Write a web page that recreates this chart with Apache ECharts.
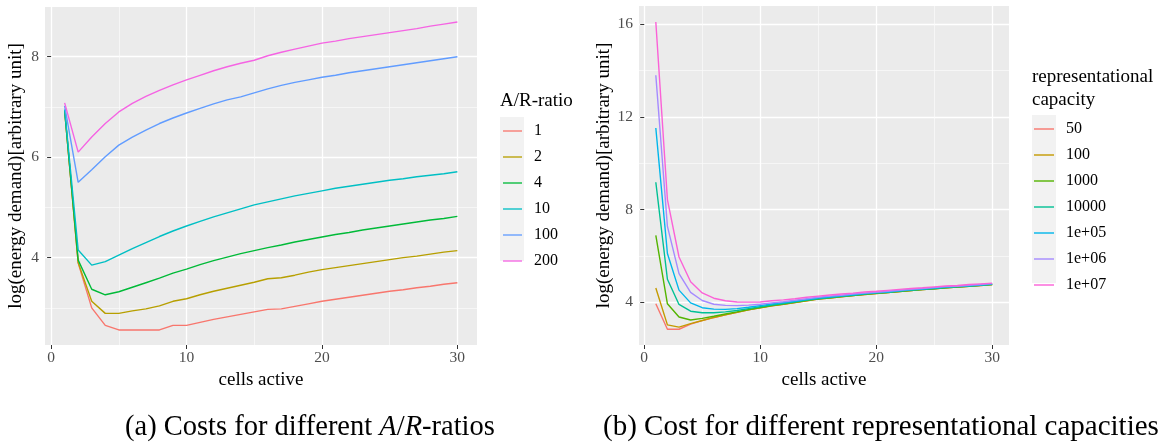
<!DOCTYPE html>
<html><head><meta charset="utf-8">
<script src="https://cdn.jsdelivr.net/npm/echarts@6/dist/echarts.min.js"></script>
<style>html,body{margin:0;padding:0;background:#fff}#c{width:1163px;height:445px}</style>
</head><body><div id="c"></div>
<script>
// ---------- data ----------
const cells = [1,2,3,4,5,6,7,8,9,10,11,12,13,14,15,16,17,18,19,20,21,22,23,24,25,26,27,28,29,30];

// (a) A/R-ratio
const arLabels = ['1','2','4','10','100','200'];
const ar1   = [6.93,3.89,3.00,2.65,2.56,2.56,2.56,2.56,2.65,2.65,2.71,2.77,2.82,2.87,2.92,2.97,2.98,3.03,3.08,3.13,3.17,3.21,3.25,3.29,3.33,3.36,3.40,3.43,3.47,3.50];
const ar2   = [6.93,3.90,3.13,2.89,2.89,2.94,2.98,3.04,3.13,3.18,3.26,3.33,3.39,3.45,3.51,3.58,3.60,3.65,3.71,3.76,3.80,3.84,3.88,3.92,3.96,4.00,4.03,4.07,4.11,4.14];
const ar4   = [6.93,3.95,3.37,3.26,3.32,3.41,3.50,3.59,3.69,3.77,3.86,3.94,4.01,4.08,4.14,4.20,4.25,4.31,4.36,4.41,4.46,4.50,4.55,4.59,4.63,4.67,4.71,4.75,4.78,4.82];
const ar10  = [6.95,4.15,3.85,3.92,4.05,4.18,4.30,4.42,4.53,4.63,4.72,4.81,4.89,4.97,5.05,5.11,5.17,5.23,5.28,5.33,5.38,5.42,5.46,5.50,5.54,5.57,5.61,5.64,5.67,5.71];
const ar100 = [7.02,5.50,5.75,6.01,6.24,6.40,6.54,6.67,6.78,6.88,6.97,7.06,7.14,7.20,7.28,7.36,7.43,7.49,7.54,7.59,7.63,7.68,7.72,7.76,7.80,7.84,7.88,7.92,7.96,8.00];
const ar200 = [7.08,6.10,6.40,6.67,6.90,7.07,7.21,7.33,7.44,7.54,7.63,7.72,7.80,7.87,7.93,8.02,8.09,8.15,8.21,8.27,8.31,8.36,8.40,8.44,8.48,8.52,8.56,8.61,8.65,8.69];

// (b) representational capacity
const capLabels = ['50','100','1000','10000','1e+05','1e+06','1e+07'];
const cap50  = [3.93,2.83,2.83,3.05,3.20,3.33,3.45,3.56,3.67,3.76,3.84,3.91,3.98,4.06,4.13,4.18,4.23,4.28,4.33,4.37,4.41,4.46,4.50,4.54,4.58,4.62,4.65,4.69,4.72,4.76];
const cap100 = [4.61,3.02,2.92,3.07,3.21,3.34,3.45,3.56,3.67,3.76,3.84,3.91,3.98,4.06,4.13,4.18,4.23,4.28,4.33,4.37,4.41,4.46,4.50,4.54,4.58,4.62,4.65,4.69,4.72,4.76];
const cap1e3 = [6.88,3.93,3.36,3.23,3.30,3.39,3.49,3.58,3.68,3.77,3.85,3.92,3.99,4.07,4.14,4.19,4.24,4.29,4.34,4.38,4.42,4.46,4.50,4.54,4.58,4.62,4.65,4.69,4.73,4.76];
const cap1e4 = [9.18,4.99,3.90,3.61,3.54,3.54,3.58,3.64,3.72,3.80,3.88,3.94,4.01,4.09,4.15,4.20,4.25,4.30,4.35,4.39,4.43,4.48,4.52,4.56,4.59,4.63,4.66,4.70,4.73,4.77];
const cap1e5 = [11.52,6.10,4.52,3.97,3.76,3.70,3.69,3.72,3.78,3.85,3.92,3.98,4.04,4.11,4.18,4.22,4.27,4.32,4.37,4.41,4.44,4.49,4.53,4.57,4.61,4.65,4.68,4.71,4.74,4.78];
const cap1e6 = [13.80,7.27,5.23,4.42,4.07,3.91,3.86,3.85,3.87,3.91,3.97,4.02,4.08,4.15,4.21,4.26,4.30,4.35,4.39,4.43,4.47,4.51,4.55,4.59,4.63,4.67,4.69,4.73,4.76,4.80];
const cap1e7 = [16.10,8.43,5.95,4.88,4.40,4.17,4.06,4.01,4.00,4.01,4.06,4.10,4.15,4.21,4.26,4.31,4.35,4.39,4.44,4.47,4.51,4.55,4.59,4.62,4.66,4.70,4.72,4.76,4.79,4.82];

// tick labels
const xTicks = [0,10,20,30];
const xMinor = [5,15,25];
const leftYTicks = [4,6,8];
const leftYMinor = [3,5,7];
const rightYTicks = [4,8,12,16];
const rightYMinor = [6,10,14];

// ---------- styling ----------
const FONT = 'Liberation Serif';
const arColors  = ['#F8766D','#B79F00','#00BA38','#00BFC4','#619CFF','#F564E3'];
const capColors = ['#F8766D','#C49A00','#53B400','#00C094','#00B6EB','#A58AFF','#FB61D7'];
const arSeries  = [ar1,ar2,ar4,ar10,ar100,ar200];
const capSeries = [cap50,cap100,cap1e3,cap1e4,cap1e5,cap1e6,cap1e7];

const chart = echarts.init(document.getElementById('c'), null, {renderer:'canvas'});

function mainX(gi){
  return {gridIndex:gi, type:'value', min:-0.45, max:31.45, position:'bottom',
    axisLine:{show:false},
    axisTick:{show:true, length:4, lineStyle:{color:'#333', width:1}, customValues:xTicks},
    axisLabel:{customValues:xTicks, color:'#4D4D4D', fontSize:15.5, fontFamily:FONT, margin:5},
    splitLine:{show:true, lineStyle:{color:'#FFFFFF', width:1.3}},
    name:'cells active', nameLocation:'middle', nameGap:26,
    nameTextStyle:{color:'#000', fontSize:19, fontFamily:FONT}};
}
function minorX(gi){
  return {gridIndex:gi, type:'value', min:-0.45, max:31.45, position:'top',
    axisLine:{show:false}, axisTick:{show:false, customValues:xMinor}, axisLabel:{show:false},
    splitLine:{show:true, lineStyle:{color:'#FAFAFA', width:0.7}}};
}
function mainY(gi,min,max,ticks,gap){
  return {gridIndex:gi, type:'value', min:min, max:max, position:'left',
    axisLine:{show:false},
    axisTick:{show:true, length:4, lineStyle:{color:'#333', width:1}, customValues:ticks},
    axisLabel:{customValues:ticks, color:'#4D4D4D', fontSize:15.5, fontFamily:FONT, margin:6},
    splitLine:{show:true, lineStyle:{color:'#FFFFFF', width:1.3}},
    name:'log(energy demand)[arbitrary unit]', nameLocation:'middle', nameRotate:90, nameGap:gap,
    nameTextStyle:{color:'#000', fontSize:19, fontFamily:FONT}};
}
function minorY(gi,min,max,ticks){
  return {gridIndex:gi, type:'value', min:min, max:max, position:'right',
    axisLine:{show:false}, axisTick:{show:false, customValues:ticks}, axisLabel:{show:false},
    splitLine:{show:true, lineStyle:{color:'#FAFAFA', width:0.7}}};
}

const series = [];
arSeries.forEach((arr,k)=>{
  series.push({name:'a:'+arLabels[k], type:'line', xAxisIndex:0, yAxisIndex:0,
    data: cells.map((c,i)=>[c,arr[i]]), symbol:'none', showSymbol:false, silent:true,
    color:arColors[k], lineStyle:{color:arColors[k], width:1.4}, z:3});
});
capSeries.forEach((arr,k)=>{
  series.push({name:'b:'+capLabels[k], type:'line', xAxisIndex:2, yAxisIndex:2,
    data: cells.map((c,i)=>[c,arr[i]]), symbol:'none', showSymbol:false, silent:true,
    color:capColors[k], lineStyle:{color:capColors[k], width:1.4}, z:3});
});

const legendText = {color:'#000', fontSize:16, fontFamily:FONT, padding:[0,0,0,7]};
const keyIcon = 'path://M0,0 L20,0 L20,1.4 L0,1.4 Z';

chart.setOption({
  animation:false,
  backgroundColor:'#FFFFFF',
  grid:[
    {left:45, top:7, width:432, height:338, show:true, backgroundColor:'#EBEBEB', borderWidth:0, outerBoundsMode:'none'},
    {left:639, top:6, width:370, height:339, show:true, backgroundColor:'#EBEBEB', borderWidth:0, outerBoundsMode:'none'}
  ],
  xAxis:[mainX(0), minorX(0), mainX(1), minorX(1)],
  yAxis:[
    mainY(0,2.26,8.99,leftYTicks,19), minorY(0,2.26,8.99,leftYMinor),
    mainY(1,2.15,16.79,rightYTicks,25), minorY(1,2.15,16.79,rightYMinor)
  ],
  legend:[
    {data: arLabels.map(l=>'a:'+l), orient:'vertical', left:503, top:123, padding:0,
     icon:keyIcon, itemWidth:19, itemHeight:14, itemGap:10, selectedMode:false,
     formatter: n=>n.slice(2), textStyle:legendText},
    {data: capLabels.map(l=>'b:'+l), orient:'vertical', left:1034, top:121, padding:0,
     icon:keyIcon, itemWidth:20, itemHeight:14, itemGap:10, selectedMode:false,
     formatter: n=>n.slice(2), textStyle:legendText}
  ],
  title:[
    {text:'A/R-ratio', left:500, top:92, padding:0,
     textStyle:{color:'#000', fontSize:19, fontFamily:FONT, fontWeight:'normal'}},
    {text:'representational\ncapacity', left:1032, top:66, padding:0,
     textStyle:{color:'#000', fontSize:19, fontFamily:FONT, fontWeight:'normal', lineHeight:22.5}},
    {text:'(a) Costs for different {i|A}/{i|R}-ratios', left:125, top:413, padding:0,
     textStyle:{color:'#000', fontSize:28.5, fontFamily:FONT, fontWeight:'normal',
       rich:{i:{fontStyle:'italic', fontSize:28.5, fontFamily:FONT, color:'#000'}}}},
    {text:'(b) Cost for different representational capacities', left:603, top:413, padding:0,
     textStyle:{color:'#000', fontSize:29, fontFamily:FONT, fontWeight:'normal'}}
  ],
  graphic:[
    {type:'rect', left:500, top:117, shape:{width:24, height:144}, style:{fill:'#F2F2F2'}, z:-1, silent:true},
    {type:'rect', left:1032, top:115, shape:{width:24, height:168}, style:{fill:'#F2F2F2'}, z:-1, silent:true}
  ],
  series: series
});
</script></body></html>
